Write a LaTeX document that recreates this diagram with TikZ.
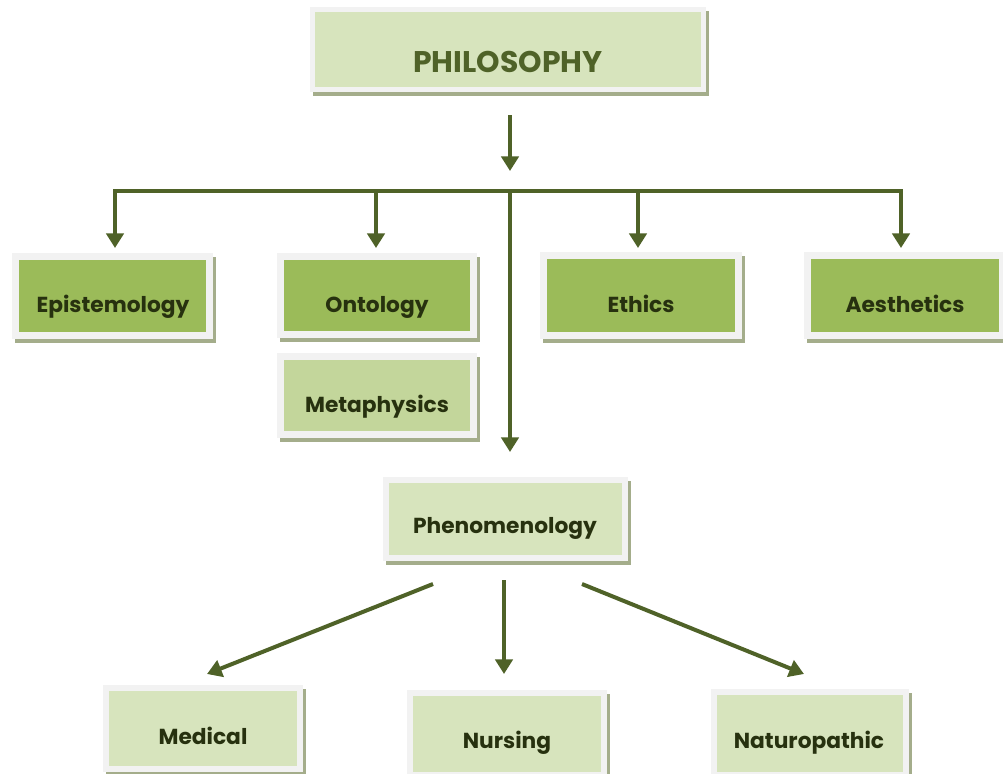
\documentclass[tikz,border=0pt]{standalone}
\usepackage{fontspec}
\setmainfont{Poppins}
\usetikzlibrary{arrows.meta,fit}

\definecolor{framec}{HTML}{F2F2F2}
\definecolor{shadec}{HTML}{A4AD8B}
\definecolor{lightg}{HTML}{D7E4BD}
\definecolor{midg}{HTML}{C3D69B}
\definecolor{darkg}{HTML}{9BBB59}
\definecolor{olive}{HTML}{4F6228}
\definecolor{inkc}{HTML}{27310F}

\tikzset{
  arrowline/.style={draw=olive, line width=3pt,
    -{Triangle[width=13pt,length=11pt]}},
  lbl/.style={anchor=base, inner sep=0pt, text=inkc,
    font=\bfseries\fontsize{16.3}{19}\selectfont},
  titlelbl/.style={anchor=base, inner sep=0pt, text=olive,
    font=\bfseries\fontsize{22.4}{26}\selectfont},
  holder/.style={inner sep=0pt, draw=none},
}

% framed panel: shadow, light frame, coloured face, named node
% #1 name, #2 x1, #3 y1, #4 x2, #5 y2, #6 face colour, #7 frame width
\newcommand{\panel}[7]{%
  \fill[shadec] (#2+3,#3+4) rectangle (#4+3,#5+4);
  \fill[framec] (#2,#3) rectangle (#4,#5);
  \fill[#6] (#2+#7,#3+#7) rectangle (#4-#7,#5-#7);
  \path (#2,#3) coordinate (#1-nw) (#4,#5) coordinate (#1-se);
  \node[holder, fit=(#1-nw)(#1-se)] (#1) {};
}

\begin{document}
\begin{tikzpicture}[x=0.75pt, y=-0.75pt]
\useasboundingbox[fill=white] (0,0) rectangle (1003,774);

% boxes
\panel{phil}{310}{7}{706}{92}{lightg}{5}
\panel{epi}{12}{253}{213}{339}{darkg}{7}
\panel{onto}{277}{253}{477}{338}{darkg}{7}
\panel{meta}{277}{353}{477}{438}{midg}{7}
\panel{eth}{540}{252}{742}{339}{darkg}{7}
\panel{aes}{804}{252}{1006}{339}{darkg}{7}
\panel{phen}{383}{477}{628}{561}{lightg}{6}
\panel{med}{103}{685}{303}{772}{lightg}{6}
\panel{nurs}{407}{690}{607}{778}{lightg}{6}
\panel{nat}{711}{689}{909}{778}{lightg}{6}

% labels
\node[titlelbl] (philt) at (508,73) {PHILOSOPHY};
\node[lbl] (epit) at (113,312) {Epistemology};
\node[lbl] (ontot) at (377,312) {Ontology};
\node[lbl] (metat) at (377,412) {Metaphysics};
\node[lbl] (etht) at (641,312) {Ethics};
\node[lbl] (aest) at (905,312) {Aesthetics};
\node[lbl] (phent) at (505,533) {Phenomenology};
\node[lbl] (medt) at (203,744) {Medical};
\node[lbl] (nurst) at (507,748) {Nursing};
\node[lbl] (natt) at (809,748) {Naturopathic};

% connector end points
\coordinate (philout) at (510,115);
\coordinate (philin) at (510,171);
\coordinate (hub) at (510,191);
\coordinate (epiin) at (115,248);
\coordinate (ontoin) at (376,248);
\coordinate (ethin) at (638,248);
\coordinate (aesin) at (901,248);
\coordinate (phenin) at (510,452);
\coordinate (medout) at (433,584);
\coordinate (medin) at (207,674);
\coordinate (nursout) at (504,580);
\coordinate (nursin) at (504,674);
\coordinate (natout) at (582,584);
\coordinate (natin) at (804,674);

% connectors
\draw[arrowline] (philout) -- (philin);
\draw[arrowline] (hub) -| (epiin);
\draw[arrowline] (hub) -| (aesin);
\draw[arrowline] (ontoin |- hub) -- (ontoin);
\draw[arrowline] (ethin |- hub) -- (ethin);
\draw[arrowline] (hub) -- (phenin);
\draw[arrowline] (medout) -- (medin);
\draw[arrowline] (nursout) -- (nursin);
\draw[arrowline] (natout) -- (natin);
\end{tikzpicture}
\end{document}
